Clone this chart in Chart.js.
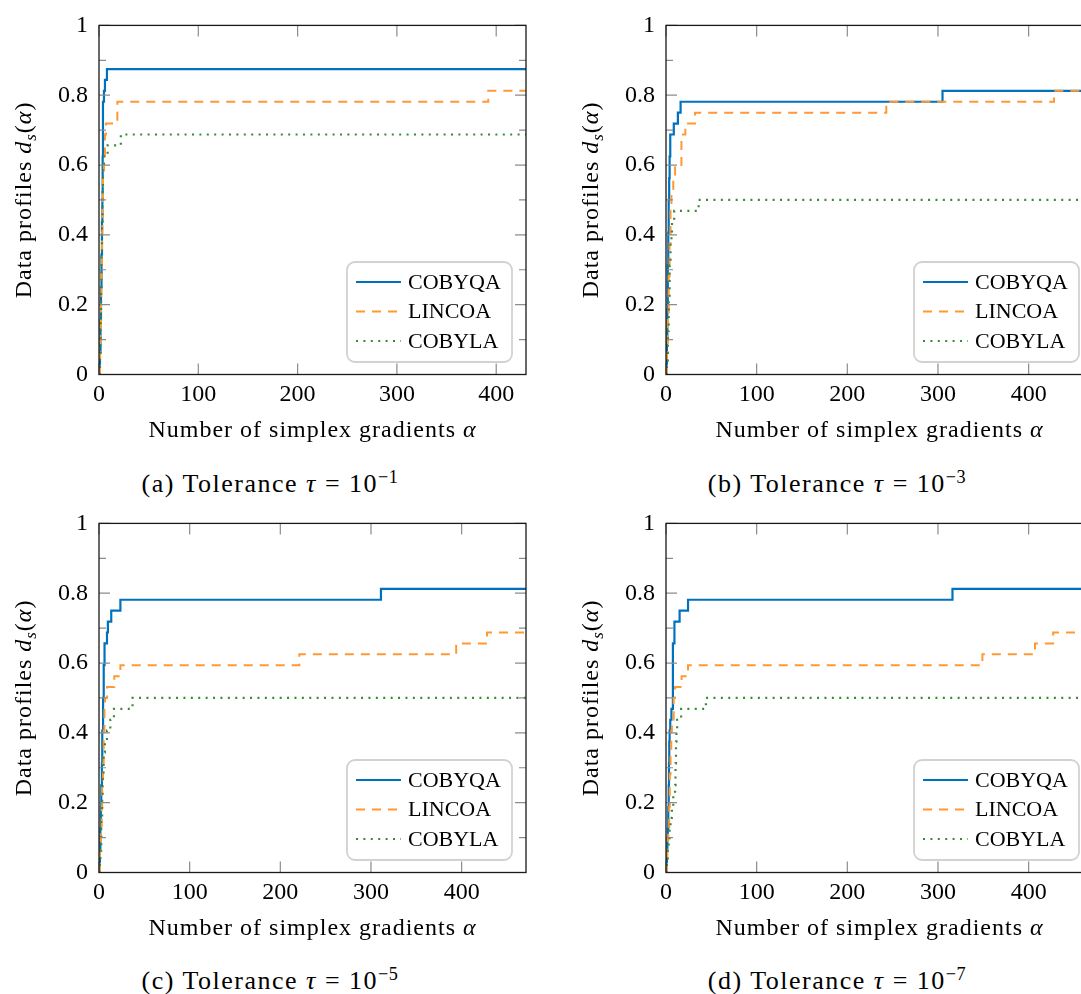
<!DOCTYPE html>
<html><head><meta charset="utf-8">
<script src="https://cdn.jsdelivr.net/npm/chart.js@4.4.1/dist/chart.umd.min.js"></script>
<style>
html,body{margin:0;padding:0;background:#fff;}
body{width:1081px;height:994px;overflow:hidden;position:relative;font-family:"Liberation Serif","Times New Roman",serif;}
canvas.panel{position:absolute;}
.cap{position:absolute;width:540px;text-align:center;font-size:26px;line-height:1;color:#000;letter-spacing:1.5px;white-space:nowrap;}
.cap sup{font-size:70%;vertical-align:0.5em;line-height:0;letter-spacing:0.5px;}
</style></head><body>
<canvas id="ca" class="panel" width="540" height="450" style="left:0px;top:0px"></canvas>
<canvas id="cb" class="panel" width="540" height="450" style="left:567px;top:0px"></canvas>
<canvas id="cc" class="panel" width="540" height="450" style="left:0px;top:497.5px"></canvas>
<canvas id="cd" class="panel" width="540" height="450" style="left:567px;top:497.5px"></canvas>
<div class="cap" style="left:0px;top:471px">(a) Tolerance <i>τ</i> = 10<sup>−1</sup></div>
<div class="cap" style="left:567px;top:471px">(b) Tolerance <i>τ</i> = 10<sup>−3</sup></div>
<div class="cap" style="left:0px;top:968px">(c) Tolerance <i>τ</i> = 10<sup>−5</sup></div>
<div class="cap" style="left:567px;top:968px">(d) Tolerance <i>τ</i> = 10<sup>−7</sup></div>
<script>
// ---------- data ----------
const seriesNames = ['COBYQA', 'LINCOA', 'COBYLA'];
const xTickValues = [0, 100, 200, 300, 400];
const yTickValues = [0, 0.1, 0.2, 0.3, 0.4, 0.5, 0.6, 0.7, 0.8, 0.9, 1];
const yLabelValues = [0, 0.2, 0.4, 0.6, 0.8, 1];
const xMaxes = [430, 471, 471, 471];

// (a) tau = 1e-1   [alpha, d_s]
const a_COBYQA = [[0,0],[0.5,0.03125],[1,0.0625],[1.5,0.15625],[2,0.25],[2.5,0.34375],[3,0.4375],[3.4,0.5],[3.7,0.625],[4,0.78125],[5,0.8125],[6,0.84375],[8,0.875],[430,0.875]];
const a_LINCOA = [[0,0],[1,0.0625],[1.5,0.125],[2,0.21875],[2.5,0.3125],[3,0.40625],[3.5,0.5],[4,0.5625],[5,0.625],[6,0.6875],[7,0.71875],[18.5,0.78125],[392,0.8125],[430,0.8125]];
const a_COBYLA = [[0,0],[1,0.0625],[1.5,0.15625],[2,0.25],[2.5,0.34375],[3,0.4375],[3.5,0.53125],[4,0.59375],[5,0.625],[8.7,0.65625],[22,0.6875],[430,0.6875]];

// (b) tau = 1e-3
const b_COBYQA = [[0,0],[0.5,0.03125],[1,0.09375],[1.5,0.1875],[2,0.3125],[2.5,0.40625],[3,0.5],[3.5,0.5625],[4,0.625],[4.7,0.6875],[8.6,0.71875],[13.1,0.75],[16.1,0.78125],[305,0.8125],[471,0.8125]];
const b_LINCOA = [[0,0],[1,0.0625],[2,0.15625],[3,0.28125],[4,0.375],[5,0.46875],[6,0.53125],[8,0.5625],[10,0.59375],[17,0.6875],[21.3,0.71875],[32,0.75],[243,0.78125],[428,0.8125],[471,0.8125]];
const b_COBYLA = [[0,0],[1,0.03125],[2,0.125],[3,0.21875],[4,0.3125],[5,0.375],[6,0.40625],[6.6,0.4375],[9,0.46875],[36,0.5],[471,0.5]];

// (c) tau = 1e-5
const c_COBYQA = [[0,0],[0.5,0.03125],[1,0.0625],[1.5,0.125],[2,0.1875],[2.5,0.25],[3.2,0.3125],[3.6,0.40625],[4.5,0.5],[5.2,0.59375],[6.1,0.65625],[8.8,0.6875],[9.8,0.71875],[13.5,0.75],[23.6,0.78125],[311,0.8125],[471,0.8125]];
const c_LINCOA = [[0,0],[1,0.0625],[2,0.125],[3,0.1875],[3.5,0.25],[4.5,0.3125],[5.2,0.40625],[6,0.46875],[6.6,0.5],[8.8,0.53125],[16.9,0.5625],[23.6,0.59375],[221,0.625],[394,0.65625],[428,0.6875],[471,0.6875]];
const c_COBYLA = [[0,0],[1,0.03125],[1.5,0.0625],[2.5,0.15625],[3.5,0.21875],[4,0.28125],[5,0.34375],[6.5,0.375],[8.8,0.40625],[12.5,0.4375],[16.5,0.46875],[37,0.5],[471,0.5]];

// (d) tau = 1e-7
const d_COBYQA = [[0,0],[0.5,0.03125],[1,0.0625],[1.5,0.09375],[2,0.125],[2.5,0.1875],[3,0.25],[3.3,0.3125],[3.6,0.375],[4,0.40625],[4.7,0.4375],[6,0.46875],[7.6,0.65625],[9.3,0.71875],[15,0.75],[24.3,0.78125],[316,0.8125],[471,0.8125]];
const d_LINCOA = [[0,0],[1,0.03125],[1.5,0.09375],[2.5,0.125],[3.5,0.1875],[4.2,0.28125],[5,0.34375],[5.8,0.40625],[6.5,0.4375],[8.5,0.5],[10,0.53125],[17.2,0.5625],[24.3,0.59375],[349,0.625],[407,0.65625],[427,0.6875],[471,0.6875]];
const d_COBYLA = [[0,0],[1,0.03125],[2,0.0625],[3,0.09375],[4,0.125],[5,0.15625],[6.5,0.1875],[8,0.21875],[10,0.25],[10.5,0.3125],[11,0.375],[11.5,0.40625],[12.3,0.4375],[16.7,0.46875],[44,0.5],[471,0.5]];

// ---------- styling ----------
const FONT = '"Liberation Serif","Times New Roman",serif';
const seriesStyles = [
  {borderColor:'#0072BD', borderWidth:2.2, borderDash:[], borderCapStyle:'butt', order:2},
  {borderColor:'#FF9933', borderWidth:2.0, borderDash:[9,7], borderCapStyle:'butt', order:1},
  {borderColor:'#3a8a34', borderWidth:2.2, borderDash:[2,5.4], borderCapStyle:'butt', order:0}
];
const xTitleSegs = [{t:'Number of simplex gradients '},{t:'α',i:true}];
const yTitleSegs = [{t:'Data profiles '},{t:'d',i:true},{t:'s',i:true,s:0.7,dy:0.22},{t:'('},{t:'α',i:true},{t:')'}];

function drawRich(ctx, segs, cx, by, size){
  const widths = segs.map(s=>{
    ctx.font = (s.i?'italic ':'') + (size*(s.s||1)) + 'px ' + FONT;
    return ctx.measureText(s.t).width;
  });
  let x = cx - widths.reduce((a,b)=>a+b,0)/2;
  segs.forEach((s,k)=>{
    ctx.font = (s.i?'italic ':'') + (size*(s.s||1)) + 'px ' + FONT;
    ctx.fillText(s.t, x, by + (s.dy||0)*size);
    x += widths[k];
  });
}

const framePlugin = {
  id:'frame',
  afterDatasetsDraw(chart){
    const {ctx, chartArea:ca, scales:{x, y}} = chart;
    ctx.save();
    ctx.strokeStyle = '#8c8c8c'; ctx.lineWidth = 1.2; ctx.setLineDash([]);
    ctx.beginPath();
    yTickValues.forEach(v=>{
      const py = y.getPixelForValue(v);
      const len = yLabelValues.includes(v) ? 11 : 7;
      ctx.moveTo(ca.left, py); ctx.lineTo(ca.left+len, py);
      ctx.moveTo(ca.right, py); ctx.lineTo(ca.right-len, py);
    });
    xTickValues.forEach(v=>{
      const px = x.getPixelForValue(v);
      ctx.moveTo(px, ca.bottom); ctx.lineTo(px, ca.bottom-11);
      ctx.moveTo(px, ca.top); ctx.lineTo(px, ca.top+11);
    });
    ctx.stroke();
    ctx.strokeStyle = '#1a1a1a'; ctx.lineWidth = 1.3;
    ctx.strokeRect(ca.left, ca.top, ca.right-ca.left, ca.bottom-ca.top);
    ctx.restore();
  }
};

const titlePlugin = {
  id:'titles',
  afterDraw(chart){
    const {ctx, chartArea:ca} = chart;
    ctx.save();
    ctx.fillStyle = '#000'; ctx.textBaseline = 'alphabetic'; ctx.textAlign = 'left';
    try { ctx.letterSpacing = '1px'; } catch(e) {}
    drawRich(ctx, xTitleSegs, (ca.left+ca.right)/2, ca.bottom+62.8, 24);
    ctx.translate(ca.left-68, (ca.top+ca.bottom)/2);
    ctx.rotate(-Math.PI/2);
    drawRich(ctx, yTitleSegs, 0, 0, 24);
    ctx.restore();
  }
};

const legendPlugin = {
  id:'boxlegend',
  afterDraw(chart){
    const {ctx, chartArea:ca} = chart;
    const w = 165, h = 100;
    const r = ca.right - 14, b = ca.bottom - 12.5, l = r - w, t = b - h;
    ctx.save();
    ctx.fillStyle = '#fff'; ctx.strokeStyle = '#d2d2d2'; ctx.lineWidth = 1.8; ctx.setLineDash([]);
    ctx.beginPath(); ctx.roundRect(l, t, w, h, 8); ctx.fill(); ctx.stroke();
    chart.data.datasets.forEach((ds, k)=>{
      const cy = t + 20 + k*29.5;
      ctx.strokeStyle = ds.borderColor; ctx.lineWidth = ds.borderWidth;
      ctx.setLineDash(ds.borderDash || []); ctx.lineCap = ds.borderCapStyle || 'butt';
      ctx.beginPath(); ctx.moveTo(l+9, cy); ctx.lineTo(l+54, cy); ctx.stroke();
      ctx.setLineDash([]);
      ctx.fillStyle = '#000'; ctx.font = '22px ' + FONT; ctx.textBaseline = 'middle'; ctx.textAlign = 'left';
      ctx.fillText(ds.label, l+61, cy+1);
    });
    ctx.restore();
  }
};

function fmtY(v){ return yLabelValues.includes(v) ? String(v) : ''; }

function makeChart(id, xmax, series){
  new Chart(document.getElementById(id), {
    type:'line',
    data:{ datasets: series.map((s,k)=>Object.assign({
      label: seriesNames[k],
      data: s.map(p=>({x:p[0], y:p[1]})),
      stepped: 'before', fill:false, pointRadius:0, tension:0
    }, seriesStyles[k])) },
    options:{
      responsive:false, animation:false, devicePixelRatio:1,
      layout:{ padding:{left:0, top:24.5, right:14, bottom:35.5}, autoPadding:false },
      plugins:{ legend:{display:false}, tooltip:{enabled:false}, title:{display:false} },
      events:[],
      scales:{
        x:{ type:'linear', min:0, max:xmax,
            afterBuildTicks: s=>{ s.ticks = xTickValues.map(v=>({value:v})); },
            afterFit: s=>{ s.height = 40; },
            grid:{display:false, drawTicks:false}, border:{display:false},
            ticks:{ font:{family:FONT, size:24}, color:'#000', padding:6, maxRotation:0, autoSkip:false, callback: v=>String(v) } },
        y:{ type:'linear', min:0, max:1,
            afterBuildTicks: s=>{ s.ticks = yTickValues.map(v=>({value:v})); },
            afterFit: s=>{ s.width = 99; },
            grid:{display:false, drawTicks:false}, border:{display:false},
            ticks:{ font:{family:FONT, size:24}, color:'#000', padding:11, autoSkip:false, callback: v=>fmtY(v) } }
      }
    },
    plugins:[framePlugin, titlePlugin, legendPlugin]
  });
}

makeChart('ca', xMaxes[0], [a_COBYQA, a_LINCOA, a_COBYLA]);
makeChart('cb', xMaxes[1], [b_COBYQA, b_LINCOA, b_COBYLA]);
makeChart('cc', xMaxes[2], [c_COBYQA, c_LINCOA, c_COBYLA]);
makeChart('cd', xMaxes[3], [d_COBYQA, d_LINCOA, d_COBYLA]);
</script>
</body></html>
